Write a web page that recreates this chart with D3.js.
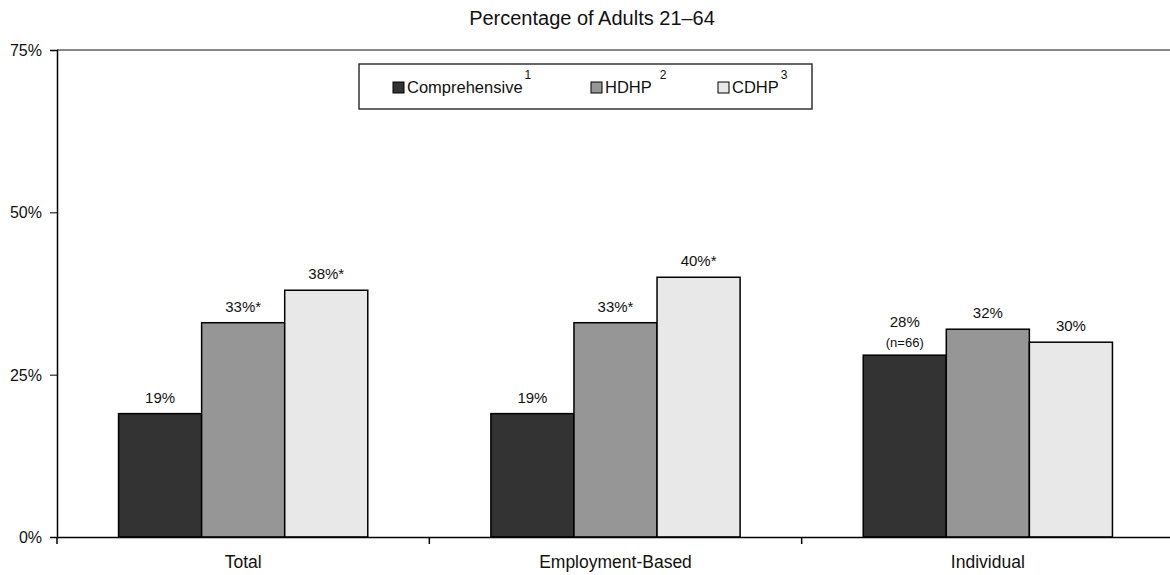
<!DOCTYPE html>
<html>
<head>
<meta charset="utf-8">
<script src="https://cdn.jsdelivr.net/npm/d3@7"></script>
<style>
  body { margin: 0; background: #fff; }
  text { font-family: "Liberation Sans", Arial, sans-serif; fill: #111; }
</style>
</head>
<body>
<div id="chart"></div>
<script>
var categories = ['Total', 'Employment-Based', 'Individual']
var seriesNames = ['Comprehensive', 'HDHP', 'CDHP']
var seriesNotes = ['1', '2', '3']
var comprehensive = [19, 19, 28]
var hdhp = [33, 33, 32]
var cdhp = [38, 40, 30]
var comprehensiveLabels = ['19%', '19%', '28%']
var hdhpLabels = ['33%*', '33%*', '32%']
var cdhpLabels = ['38%*', '40%*', '30%']
var yTicks = [0, 25, 50, 75]

var width = 1170
var height = 575
var colors = ['#333333', '#969696', '#e8e8e8']
var series = [comprehensive, hdhp, cdhp]
var labels = [comprehensiveLabels, hdhpLabels, cdhpLabels]

var svg = d3.select('#chart').append('svg')
  .attr('width', width)
  .attr('height', height)

var x = d3.scaleBand().domain(categories).range([57, 1174])
var inner = d3.scaleBand().domain(d3.range(3)).range([0, x.bandwidth()]).paddingOuter(0.741).paddingInner(0)
var y = d3.scaleLinear().domain([0, 75]).range([537, 50])

// title
svg.append('text')
  .attr('x', 592).attr('y', 25)
  .attr('text-anchor', 'middle')
  .style('font-size', '20px')
  .text('Percentage of Adults 21–64')

// top frame line
svg.append('line')
  .attr('x1', 57).attr('x2', width)
  .attr('y1', y(75)).attr('y2', y(75))
  .attr('stroke', '#888').attr('stroke-width', 2)

// y axis
var yAxis = svg.append('g')
  .attr('transform', 'translate(57,0)')
  .call(d3.axisLeft(y).tickValues(yTicks).tickSize(7).tickFormat(function(d) { return d + '%' }))
yAxis.select('.domain').attr('stroke', '#000').attr('stroke-width', 1.5)
yAxis.selectAll('text').style('font-size', '16px').attr('x', -15).attr('dy', '0.35em')

// bars
categories.forEach(function(cat, ci) {
  series.forEach(function(s, si) {
    var bx = x(cat) + inner(si)
    svg.append('rect')
      .attr('x', bx).attr('y', y(s[ci]))
      .attr('width', inner.bandwidth()).attr('height', y(0) - y(s[ci]))
      .attr('fill', colors[si]).attr('stroke', '#000').attr('stroke-width', 1.5)

    var cx = bx + inner.bandwidth() / 2
    var withN = ci === 2 && si === 0
    svg.append('text')
      .attr('x', cx).attr('y', y(s[ci]) - (withN ? 28 : 11))
      .attr('text-anchor', 'middle')
      .style('font-size', '15px')
      .text(labels[si][ci])
    if (withN) {
      svg.append('text')
        .attr('x', cx).attr('y', y(s[ci]) - 8)
        .attr('text-anchor', 'middle')
        .style('font-size', '13px')
        .text('(n=66)')
    }
  })
})

// x axis
var xAxis = svg.append('g')
  .attr('transform', 'translate(0,' + y(0) + ')')
  .call(d3.axisBottom(x).tickSize(0).tickPadding(19))
xAxis.select('.domain').attr('stroke', '#000').attr('stroke-width', 1.5)
xAxis.selectAll('text').style('font-size', '17.5px')
var bounds = [57].concat(categories.map(function(c) { return x(c) + x.bandwidth() }))
xAxis.selectAll('.sep').data(bounds).enter().append('line')
  .attr('class', 'sep')
  .attr('x1', function(d) { return d }).attr('x2', function(d) { return d })
  .attr('y1', 0).attr('y2', 7)
  .attr('stroke', '#000').attr('stroke-width', 1.5)

// legend
var legend = svg.append('g')
legend.append('rect')
  .attr('x', 359).attr('y', 64).attr('width', 453).attr('height', 45)
  .attr('fill', '#fff').attr('stroke', '#333').attr('stroke-width', 1.5)
var legX = [393, 591, 718]
var noteGap = [2, 8, 2]
seriesNames.forEach(function(name, i) {
  legend.append('rect')
    .attr('x', legX[i]).attr('y', 82).attr('width', 11).attr('height', 11)
    .attr('fill', colors[i]).attr('stroke', '#000').attr('stroke-width', 1)
  var t = legend.append('text')
    .attr('x', legX[i] + 14).attr('y', 93)
    .style('font-size', '16.5px')
    .text(name)
  var len = t.node().getComputedTextLength()
  legend.append('text')
    .attr('x', legX[i] + 14 + len + noteGap[i]).attr('y', 79)
    .style('font-size', '12px')
    .text(seriesNotes[i])
})
</script>
</body>
</html>
